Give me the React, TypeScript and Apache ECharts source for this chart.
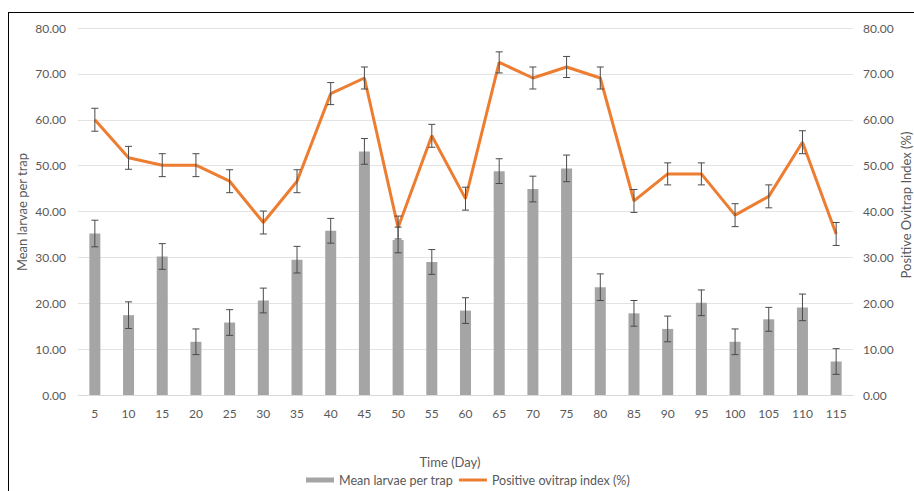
import React, { useEffect, useRef } from "react";
import * as echarts from "echarts";

const days = ["5","10","15","20","25","30","35","40","45","50","55","60","65","70","75","80","85","90","95","100","105","110","115"];
const meanLarvae = [35.2,17.4,30.2,11.6,15.8,20.6,29.5,35.8,53.1,33.8,29.0,18.4,48.8,44.9,49.4,23.5,17.8,14.4,20.1,11.6,16.5,19.1,7.3];
const larvaeErr = [2.9,2.9,2.8,2.8,2.8,2.7,2.9,2.7,2.8,2.8,2.7,2.8,2.7,2.8,2.9,2.9,2.8,2.8,2.8,2.8,2.6,2.9,2.8];
const ovitrapIndex = [60.0,51.7,50.1,50.1,46.6,37.6,46.6,65.7,69.1,36.5,56.5,42.8,72.5,69.1,71.5,69.1,42.3,48.2,48.2,39.2,43.3,55.1,35.1];
const ovitrapErr = [2.5,2.5,2.5,2.5,2.5,2.5,2.5,2.4,2.4,2.5,2.5,2.5,2.3,2.4,2.3,2.4,2.5,2.4,2.4,2.5,2.5,2.5,2.5];
const yTicks = { min: 0, max: 80, interval: 10 };

const FONT = "Lato";
const GRAY = "#595959";

function errRows(vals: number[], errs: number[]) {
  return vals.map((v, i) => [days[i], v - errs[i], v + errs[i]]);
}

function renderErr(params: any, api: any) {
  const x = api.value(0);
  const lo = api.coord([x, api.value(1)]);
  const hi = api.coord([x, api.value(2)]);
  const h = 3.5;
  const style = { stroke: "#4a4a4a", lineWidth: 1 };
  return {
    type: "group",
    children: [
      { type: "line", shape: { x1: lo[0], y1: lo[1], x2: hi[0], y2: hi[1] }, style },
      { type: "line", shape: { x1: lo[0] - h, y1: lo[1], x2: lo[0] + h, y2: lo[1] }, style },
      { type: "line", shape: { x1: hi[0] - h, y1: hi[1], x2: hi[0] + h, y2: hi[1] }, style },
    ],
  };
}

export default function App() {
  const ref = useRef<HTMLDivElement>(null);
  useEffect(() => {
    if (!ref.current) return;
    const chart = echarts.init(ref.current, undefined, { renderer: "svg" });
    const yAxisBase = {
      type: "value",
      min: yTicks.min,
      max: yTicks.max,
      interval: yTicks.interval,
      axisLine: { show: false },
      axisTick: { show: false },
      splitLine: { lineStyle: { color: "#E3E3E3", width: 1 } },
    };
    chart.setOption({
      animation: false,
      textStyle: { fontFamily: FONT },
      grid: { left: 78, right: 61, top: 28, bottom: 96, containLabel: false },
      xAxis: {
        type: "category",
        data: days,
        axisLine: { lineStyle: { color: "#D9D9D9", width: 1 } },
        axisTick: { show: false },
        axisLabel: { color: GRAY, fontSize: 12, fontFamily: FONT, margin: 12 },
      },
      yAxis: [
        {
          ...yAxisBase,
          axisLabel: { color: GRAY, fontSize: 12, fontFamily: FONT, margin: 12, formatter: (v: number) => v.toFixed(2) },
        },
        {
          ...yAxisBase,
          position: "right",
          splitLine: { show: false },
          axisLabel: { color: GRAY, fontSize: 12, fontFamily: FONT, margin: 10, formatter: (v: number) => v.toFixed(2) },
        },
      ],
      legend: {
        left: 306,
        top: 473,
        padding: 0,
        itemGap: 6,
        itemWidth: 28,
        itemHeight: 5,
        textStyle: { color: GRAY, fontSize: 12.5, lineHeight: 14, fontFamily: FONT },
        data: [
          { name: "Mean larvae per trap", icon: "rect" },
          { name: "Positive ovitrap index (%)", icon: "path://M0 0h28v3H0z" },
        ],
      },
      series: [
        {
          name: "Mean larvae per trap",
          type: "bar",
          data: meanLarvae,
          barWidth: 11,
          itemStyle: { color: "#A5A5A5" },
          yAxisIndex: 0,
        },
        {
          name: "Positive ovitrap index (%)",
          type: "line",
          data: ovitrapIndex,
          yAxisIndex: 1,
          symbol: "none",
          showSymbol: false,
          lineStyle: { color: "#ED7D31", width: 3 },
          itemStyle: { color: "#ED7D31" },
          z: 3,
        },
        {
          type: "custom",
          name: "larvaeErr",
          yAxisIndex: 0,
          renderItem: renderErr,
          encode: { x: 0, y: [1, 2] },
          data: errRows(meanLarvae, larvaeErr),
          z: 4,
        },
        {
          type: "custom",
          name: "ovitrapErr",
          yAxisIndex: 1,
          renderItem: renderErr,
          encode: { x: 0, y: [1, 2] },
          data: errRows(ovitrapIndex, ovitrapErr),
          z: 4,
        },
      ],
      graphic: [
        { type: "line", shape: { x1: 8, y1: 12.5, x2: 914, y2: 12.5 }, style: { stroke: "#000", lineWidth: 1 } },
        { type: "line", shape: { x1: 8.5, y1: 12, x2: 8.5, y2: 491 }, style: { stroke: "#000", lineWidth: 1 } },
        {
          type: "text",
          x: 22,
          y: 212,
          rotation: Math.PI / 2,
          style: { text: "Mean larvae per trap", fill: GRAY, font: `13px ${FONT}`, align: "center", verticalAlign: "middle" },
        },
        {
          type: "text",
          x: 906,
          y: 205,
          rotation: Math.PI / 2,
          style: { text: "Positive Ovitrap Index (%)", fill: GRAY, font: `13px ${FONT}`, align: "center", verticalAlign: "middle" },
        },
        {
          type: "text",
          x: 450,
          y: 462,
          style: { text: "Time (Day)", fill: GRAY, font: `13px ${FONT}`, align: "center", verticalAlign: "middle" },
        },
      ],
    });
    return () => chart.dispose();
  }, []);
  return (
    <div
      ref={ref}
      style={{ position: "fixed", left: 0, top: 0, width: 914, height: 491, background: "#fff" }}
    />
  );
}
